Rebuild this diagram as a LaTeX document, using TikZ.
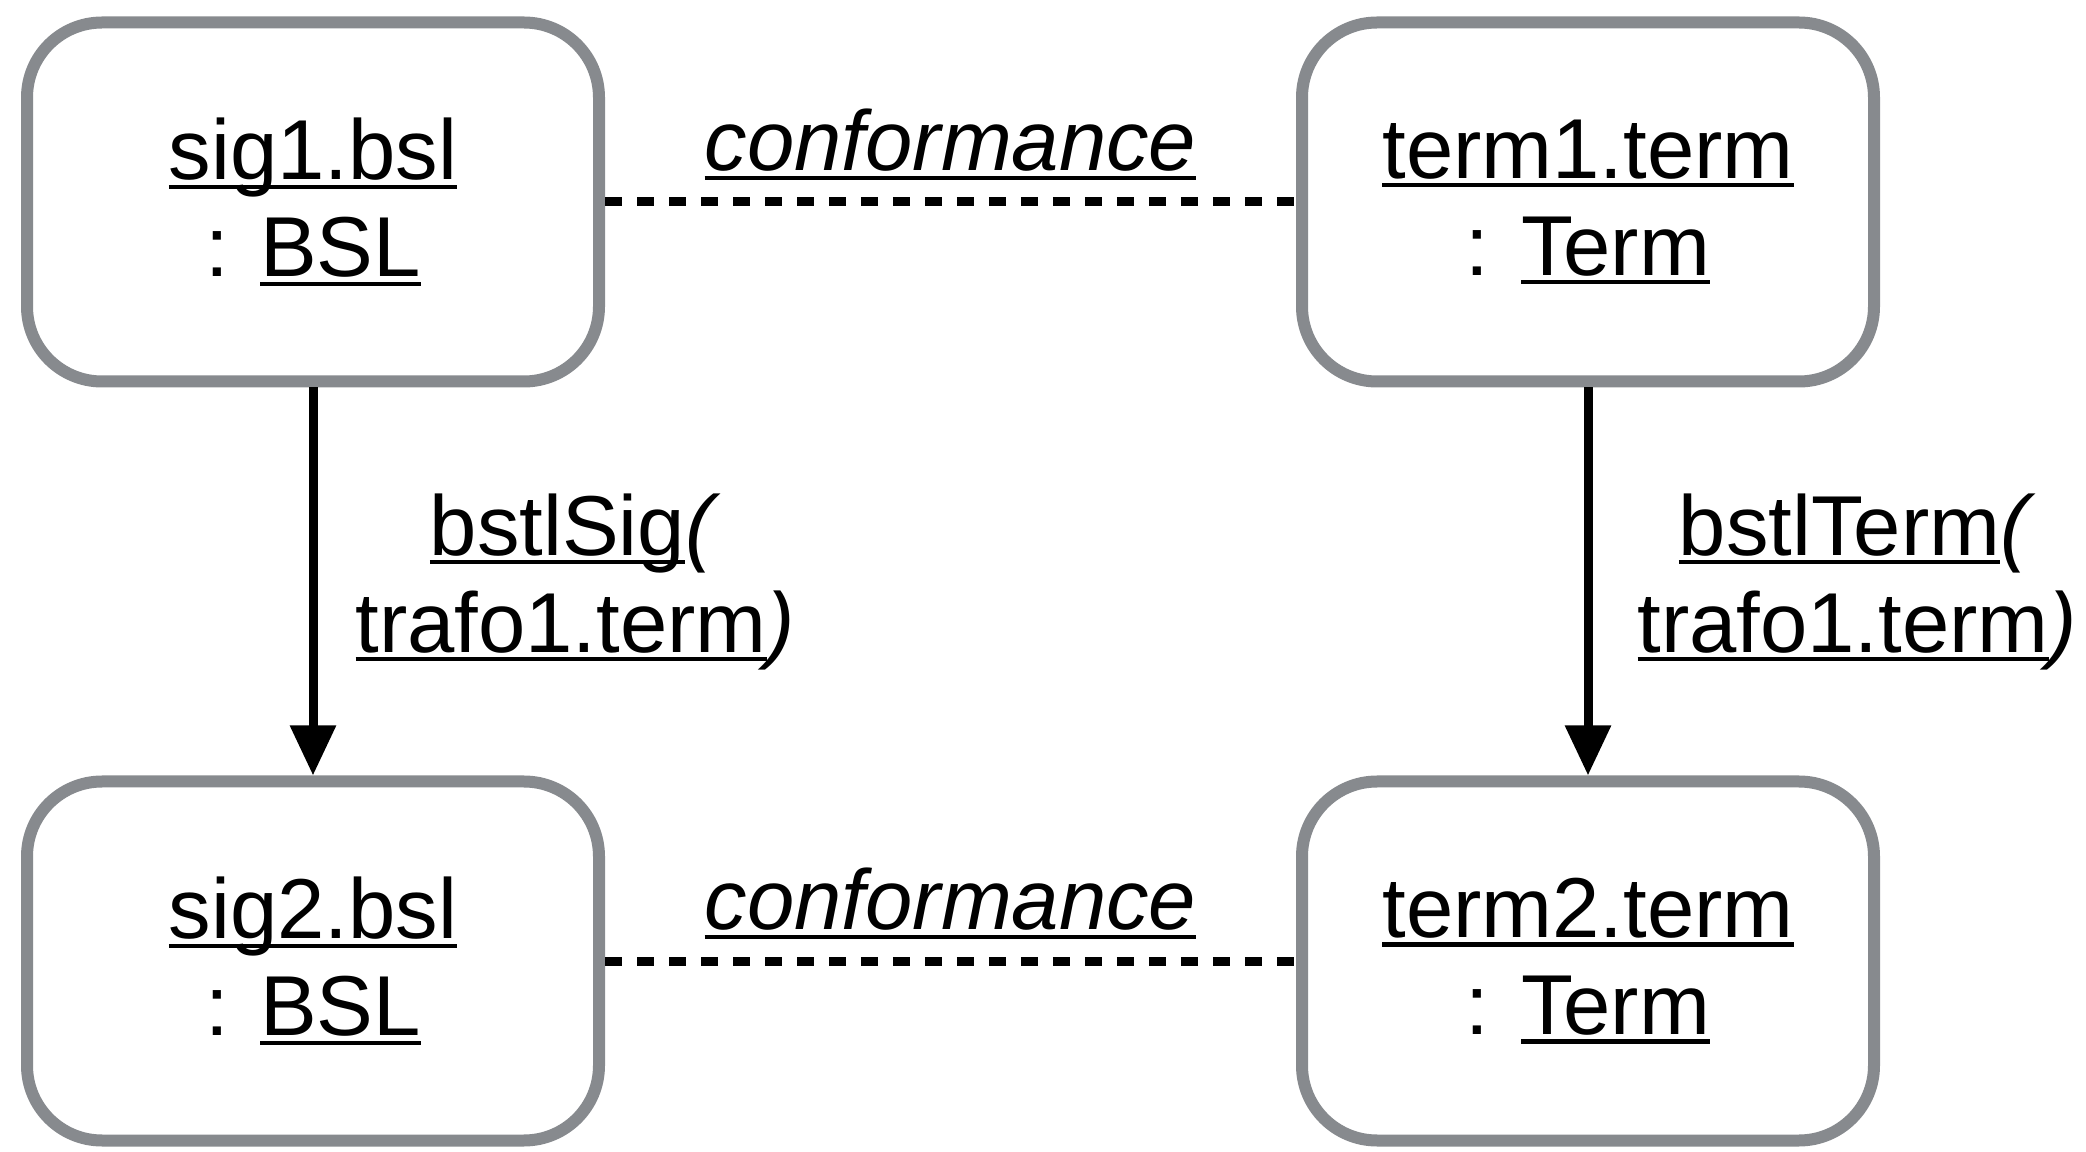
\documentclass[tikz,border=0pt]{standalone}
\usepackage{fontspec}
\setmainfont{Liberation Sans}
\usepackage{xcolor}
\usepackage{tikz}
\usetikzlibrary{positioning, arrows.meta}
\definecolor{boxgray}{RGB}{135,138,142}
% underline that runs through the descenders
\newcommand{\uln}[1]{\leavevmode\setbox0\hbox{#1}\rlap{\rule[-0.105em]{\wd0}{0.05em}}\box0}

\begin{document}
\begin{tikzpicture}[
		obj/.style={
			rectangle,
			rounded corners=0.75cm,
			draw=boxgray,
			line width=0.12cm,
			fill=white,
			minimum width=5.72cm,
			minimum height=3.59cm,
			align=center,
			font=\fontsize{24.2}{27.6}\selectfont
		},
		lbl/.style={
			inner sep=0pt,
			align=center,
			font=\fontsize{24.2}{27.6}\selectfont
		},
		flow/.style={
			-{Triangle[length=0.5cm,width=0.44cm]},
			line width=0.09cm,
			black
		},
		conf/.style={
			line width=0.09cm,
			dash pattern=on 0.17cm off 0.15cm,
			black
		}
		]
		\useasboundingbox (0,0) rectangle (20.86,11.51);
		% Nodes
		\node[obj] (sig1) at (3.13,9.49)
		{\uln{sig1.bsl}\\: \uln{BSL}};
		\node[obj, right=6.91cm of sig1]
		(term1)
		{\uln{term1.term}\\: \uln{Term}};
		\node[obj, below=3.88cm of sig1]
		(sig2)
		{\uln{sig2.bsl}\\: \uln{BSL}};
		\node[obj, below=3.88cm of term1]
		(term2)
		{\uln{term2.term}\\: \uln{Term}};
		% Arrows
		\draw[flow] (sig1) -- node[lbl, right=0.38cm]
		{\uln{bstlSig}\textit{(}\\\uln{trafo1.term}\textit{)}} (sig2);
		\draw[flow] (term1) -- node[lbl, right=0.45cm]
		{\uln{bstlTerm}\textit{(}\\\uln{trafo1.term}\textit{)}} (term2);
		% Conformance links
		\draw[conf] (sig1) -- node[lbl, anchor=base, yshift=0.31cm]
		{\textit{\uln{conformance}}} (term1);
		\draw[conf] (sig2) -- node[lbl, anchor=base, yshift=0.31cm]
		{\textit{\uln{conformance}}} (term2);
	\end{tikzpicture}
\end{document}
